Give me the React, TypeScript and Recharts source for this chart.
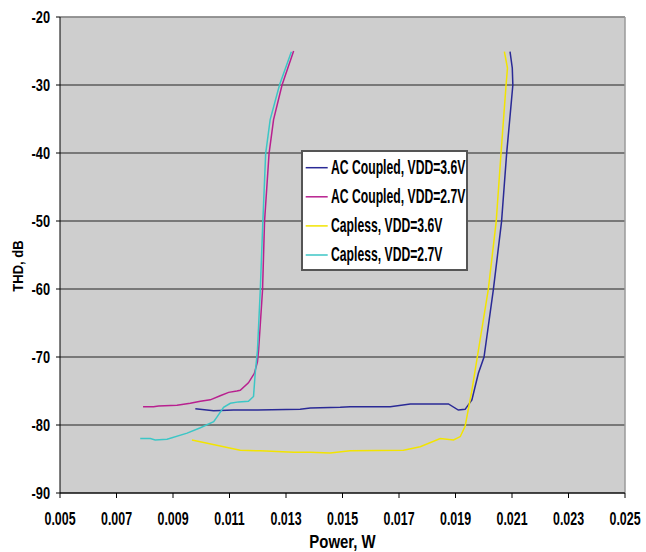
import React from "react";
import {
  LineChart,
  Line,
  XAxis,
  YAxis,
  CartesianGrid,
  ReferenceLine,
  Legend,
} from "recharts";

// power (W) / THD (dB)
const acCoupled36Power = [
  0.00979, 0.01044, 0.01114, 0.012, 0.0135, 0.01386, 0.01492, 0.01527, 0.01669,
  0.0174, 0.01875, 0.0191, 0.01934, 0.01958, 0.01981, 0.02001, 0.02034, 0.02063,
  0.02081, 0.02095, 0.02103, 0.02101, 0.02093,
];
const acCoupled36Thd = [
  -77.6, -77.9, -77.8, -77.8, -77.7, -77.5, -77.4, -77.3, -77.3, -76.9, -76.9,
  -77.8, -77.7, -76.3, -72.4, -70.0, -60.1, -50.1, -40.1, -33.7, -30.0, -27.5,
  -25.1,
];

const acCoupled27Power = [
  0.00794, 0.00831, 0.00849, 0.00914, 0.00961, 0.00997, 0.01032, 0.01067,
  0.01097, 0.01126, 0.01138, 0.01167, 0.01188, 0.01199, 0.01203, 0.01217,
  0.01224, 0.0124, 0.01256, 0.01286, 0.01327,
];
const acCoupled27Thd = [
  -77.3, -77.3, -77.2, -77.1, -76.8, -76.5, -76.3, -75.7, -75.2, -75.0, -74.9,
  -73.8, -72.4, -70.7, -69.0, -60.1, -50.1, -40.1, -35.1, -30.0, -25.0,
];

const capless36Power = [
  0.00967, 0.01138, 0.01209, 0.01327, 0.01386, 0.01456, 0.01527, 0.01716,
  0.01775, 0.01846, 0.01893, 0.01917, 0.01934, 0.01958, 0.01987, 0.02016,
  0.02044, 0.02061, 0.02079, 0.02084, 0.02073,
];
const capless36Thd = [
  -82.2, -83.7, -83.8, -84.0, -84.0, -84.1, -83.8, -83.7, -83.2, -82.0, -82.2,
  -81.7, -80.2, -74.9, -67.5, -60.1, -50.1, -40.1, -30.0, -27.5, -25.1,
];

const capless27Power = [
  0.00784, 0.0082, 0.00837, 0.00879, 0.0095, 0.00997, 0.01044, 0.01056, 0.01079,
  0.01103, 0.01132, 0.01167, 0.01185, 0.01191, 0.01199, 0.01209, 0.01218,
  0.01228, 0.01244, 0.01277, 0.01319,
];
const capless27Thd = [
  -82.0, -82.0, -82.2, -82.1, -81.2, -80.4, -79.5, -78.8, -77.4, -76.8, -76.6,
  -76.5, -75.8, -72.4, -69.0, -60.1, -50.1, -40.1, -35.1, -30.0, -25.1,
];

const seriesNames = [
  "AC Coupled, VDD=3.6V",
  "AC Coupled, VDD=2.7V",
  "Capless, VDD=3.6V",
  "Capless, VDD=2.7V",
];

const powerTicks = [
  0.005, 0.007, 0.009, 0.011, 0.013, 0.015, 0.017, 0.019, 0.021, 0.023, 0.025,
];
const thdTicks = [-90, -80, -70, -60, -50, -40, -30, -20];

const zip = (xs: number[], ys: number[]) =>
  xs.map((power, i) => ({ power, thd: ys[i] }));

const FONT = "'Liberation Sans', Arial, sans-serif";

const XTick = (props: any) => {
  const { x, y, payload } = props;
  return (
    <g transform={`translate(${x},${y + 25})`}>
      <text
        transform="scale(0.69,1)"
        textAnchor="middle"
        fontFamily={FONT}
        fontWeight="bold"
        fontSize={18}
        fill="#000"
      >
        {payload.value.toFixed(3)}
      </text>
    </g>
  );
};

const YTick = (props: any) => {
  const { x, y, payload } = props;
  return (
    <g transform={`translate(${x},${y + 5.7})`}>
      <text
        transform="scale(0.8,1)"
        textAnchor="end"
        fontFamily={FONT}
        fontWeight="bold"
        fontSize={16}
        fill="#000"
      >
        {payload.value}
      </text>
    </g>
  );
};

const xTitle = (props: any) => {
  const { x, y, width } = props.viewBox;
  return (
    <text
      transform={`translate(${x + width / 2},${y + 55}) scale(0.83,1)`}
      textAnchor="middle"
      fontFamily={FONT}
      fontWeight="bold"
      fontSize={18}
      fill="#000"
    >
      Power, W
    </text>
  );
};

const yTitle = (props: any) => {
  const { x, y, height } = props.viewBox;
  return (
    <text
      transform={`translate(${x + 23},${y + height / 2 + 11}) rotate(-90) scale(0.93,1)`}
      textAnchor="middle"
      fontFamily={FONT}
      fontWeight="bold"
      fontSize={14}
      fill="#000"
    >
      THD, dB
    </text>
  );
};

const renderLegend = (props: any) => {
  const payload = [...props.payload].sort(
    (a: any, b: any) => seriesNames.indexOf(a.value) - seriesNames.indexOf(b.value)
  );
  return (
    <div
      style={{
        width: 167,
        height: 121,
        boxSizing: "border-box",
        background: "#fff",
        border: "2px solid #555",
      }}
    >
      <svg width={163} height={117} style={{ display: "block" }}>
        {payload.map((entry: any, i: number) => (
          <g key={entry.value} transform={`translate(0,${15.7 + i * 29.1})`}>
            <line x1={2.7} x2={24.7} y1={0} y2={0} stroke={entry.color} strokeWidth={1.5} />
            <text
              transform="translate(28,6) scale(0.61,1)"
              fontFamily={FONT}
              fontWeight="bold"
              fontSize={20}
              fill="#000"
            >
              {entry.value}
            </text>
          </g>
        ))}
      </svg>
    </div>
  );
};

export default function App() {
  return (
    <div style={{ position: "absolute", left: 0, top: 0, background: "#fff" }}>
      <LineChart
        width={646}
        height={552}
        margin={{ top: 17, right: 21, bottom: 0, left: 0 }}
      >
        <CartesianGrid vertical={false} stroke="#222" fill="#cecece" />
        <ReferenceLine y={-20} stroke="#9a9a9a" strokeWidth={1.5} />
        <ReferenceLine x={0.025} stroke="#9a9a9a" strokeWidth={1.5} />
        <XAxis
          type="number"
          dataKey="power"
          domain={[0.005, 0.025]}
          ticks={powerTicks}
          allowDataOverflow
          height={59}
          stroke="#000"
          tickSize={5}
          tickMargin={2}
          tick={<XTick />}
          label={xTitle}
        />
        <YAxis
          type="number"
          dataKey="thd"
          domain={[-90, -20]}
          ticks={thdTicks}
          allowDataOverflow
          width={60}
          stroke="#000"
          tickSize={4}
          tickMargin={6}
          tick={<YTick />}
          label={yTitle}
        />
        <Legend
          layout="vertical"
          align="center"
          verticalAlign="middle"
          content={renderLegend}
          wrapperStyle={{ left: 301, top: 150, width: 167, height: 121 }}
        />
        <Line
          data={zip(acCoupled36Power, acCoupled36Thd)}
          dataKey="thd"
          name={seriesNames[0]}
          type="linear"
          stroke="#2a2a96"
          strokeWidth={1.5}
          dot={false}
          isAnimationActive={false}
        />
        <Line
          data={zip(acCoupled27Power, acCoupled27Thd)}
          dataKey="thd"
          name={seriesNames[1]}
          type="linear"
          stroke="#b8208f"
          strokeWidth={1.5}
          dot={false}
          isAnimationActive={false}
        />
        <Line
          data={zip(capless36Power, capless36Thd)}
          dataKey="thd"
          name={seriesNames[2]}
          type="linear"
          stroke="#f2e400"
          strokeWidth={1.5}
          dot={false}
          isAnimationActive={false}
        />
        <Line
          data={zip(capless27Power, capless27Thd)}
          dataKey="thd"
          name={seriesNames[3]}
          type="linear"
          stroke="#3cc6c6"
          strokeWidth={1.5}
          dot={false}
          isAnimationActive={false}
        />
      </LineChart>
    </div>
  );
}
